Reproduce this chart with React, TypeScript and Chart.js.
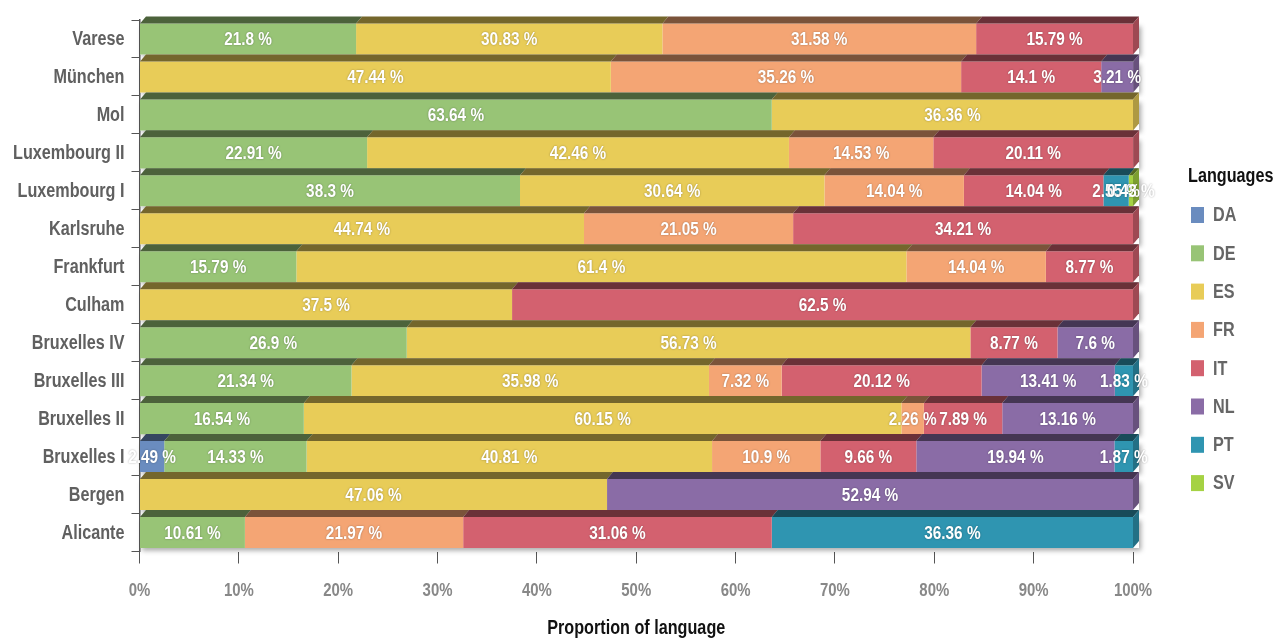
import React, { useEffect, useRef } from "react";
import { Chart, registerables } from "chart.js";

Chart.register(...registerables);

// Sites shown on the vertical axis, top to bottom
const categories = [
  "Varese",
  "München",
  "Mol",
  "Luxembourg II",
  "Luxembourg I",
  "Karlsruhe",
  "Frankfurt",
  "Culham",
  "Bruxelles IV",
  "Bruxelles III",
  "Bruxelles II",
  "Bruxelles I",
  "Bergen",
  "Alicante",
];

// Share of each language per site, in percent
const languages = ["DA", "DE", "ES", "FR", "IT", "NL", "PT", "SV"];
const daValues = [0, 0, 0, 0, 0, 0, 0, 0, 0, 0, 0, 2.49, 0, 0];
const deValues = [21.8, 0, 63.64, 22.91, 38.3, 0, 15.79, 0, 26.9, 21.34, 16.54, 14.33, 0, 10.61];
const esValues = [30.83, 47.44, 36.36, 42.46, 30.64, 44.74, 61.4, 37.5, 56.73, 35.98, 60.15, 40.81, 47.06, 0];
const frValues = [31.58, 35.26, 0, 14.53, 14.04, 21.05, 14.04, 0, 0, 7.32, 2.26, 10.9, 0, 21.97];
const itValues = [15.79, 14.1, 0, 20.11, 14.04, 34.21, 8.77, 62.5, 8.77, 20.12, 7.89, 9.66, 0, 31.06];
const nlValues = [0, 3.21, 0, 0, 0, 0, 0, 0, 7.6, 13.41, 13.16, 19.94, 52.94, 0];
const ptValues = [0, 0, 0, 0, 2.55, 0, 0, 0, 0, 1.83, 0, 1.87, 0, 36.36];
const svValues = [0, 0, 0, 0, 0.43, 0, 0, 0, 0, 0, 0, 0, 0, 0];

// Percent ticks on the horizontal axis
const xTicks = [0, 10, 20, 30, 40, 50, 60, 70, 80, 90, 100];

const seriesValues = [daValues, deValues, esValues, frValues, itValues, nlValues, ptValues, svValues];
const seriesColors = ["#6a8cbf", "#98c476", "#e8cc58", "#f4a574", "#d3616f", "#8a6ca6", "#2f95b1", "#a5d243"];

const SANS = '"Liberation Sans", Arial, sans-serif';
const NARROW_K = 0.83; // horizontal squeeze for a narrow bold face
const DEPTH_X = 6;
const DEPTH_Y = 7;

function shade(hex: string, f: number): string {
  const n = parseInt(hex.slice(1), 16);
  const r = Math.round(((n >> 16) & 255) * f);
  const g = Math.round(((n >> 8) & 255) * f);
  const b = Math.round((n & 255) * f);
  return `rgb(${r},${g},${b})`;
}

function narrowText(
  ctx: CanvasRenderingContext2D,
  text: string,
  x: number,
  y: number,
  size: number,
  color: string,
  align: CanvasTextAlign
) {
  ctx.save();
  ctx.translate(x, y);
  ctx.scale(NARROW_K, 1);
  ctx.font = `bold ${size}px ${SANS}`;
  ctx.textAlign = align;
  ctx.textBaseline = "middle";
  ctx.fillStyle = color;
  ctx.fillText(text, 0, 0);
  ctx.restore();
}

type Seg = { x0: number; x1: number; top: number; bottom: number; y: number; value: number; color: string };

function collectRows(chart: any): Seg[][] {
  const rows: Seg[][] = categories.map(() => []);
  chart.data.datasets.forEach((ds: any, di: number) => {
    const meta = chart.getDatasetMeta(di);
    if (meta.hidden) return;
    meta.data.forEach((el: any, j: number) => {
      const v = ds.data[j];
      if (!v) return;
      const p = el.getProps(["x", "y", "base", "height"], true);
      rows[j].push({
        x0: Math.min(p.base, p.x),
        x1: Math.max(p.base, p.x),
        top: p.y - p.height / 2,
        bottom: p.y + p.height / 2,
        y: p.y,
        value: v,
        color: ds.backgroundColor,
      });
    });
  });
  return rows;
}

// Drop shadow, 3D top / side faces, value labels, axis text and legend
const bar3dPlugin = {
  id: "bar3d",
  beforeDatasetsDraw(chart: any) {
    const ctx = chart.ctx;
    const rows = collectRows(chart);
    ctx.save();
    ctx.fillStyle = "#ffffff";
    ctx.shadowColor = "rgba(0,0,0,0.35)";
    ctx.shadowBlur = 5;
    ctx.shadowOffsetX = 2;
    ctx.shadowOffsetY = 3;
    rows.forEach((segs) => {
      if (!segs.length) return;
      const left = Math.min(...segs.map((s) => s.x0));
      const right = Math.max(...segs.map((s) => s.x1));
      ctx.fillRect(left, segs[0].top, right - left + DEPTH_X, segs[0].bottom - segs[0].top);
    });
    ctx.restore();
  },
  afterDatasetsDraw(chart: any) {
    const ctx = chart.ctx;
    const rows = collectRows(chart);
    ctx.save();
    rows.forEach((segs) => {
      segs.forEach((s) => {
        ctx.fillStyle = shade(s.color, 0.5);
        ctx.beginPath();
        ctx.moveTo(s.x0, s.top);
        ctx.lineTo(s.x1, s.top);
        ctx.lineTo(s.x1 + DEPTH_X, s.top - DEPTH_Y);
        ctx.lineTo(s.x0 + DEPTH_X, s.top - DEPTH_Y);
        ctx.closePath();
        ctx.fill();
      });
      if (segs.length) {
        const last = segs.reduce((a, b) => (b.x1 > a.x1 ? b : a));
        ctx.fillStyle = shade(last.color, 0.75);
        ctx.beginPath();
        ctx.moveTo(last.x1, last.top);
        ctx.lineTo(last.x1 + DEPTH_X, last.top - DEPTH_Y);
        ctx.lineTo(last.x1 + DEPTH_X, last.bottom - DEPTH_Y);
        ctx.lineTo(last.x1, last.bottom);
        ctx.closePath();
        ctx.fill();
      }
    });
    ctx.restore();

    ctx.save();
    ctx.shadowColor = "rgba(0,0,0,0.35)";
    ctx.shadowBlur = 2;
    rows.forEach((segs) => {
      segs.forEach((s) => {
        narrowText(ctx, `${s.value} %`, (s.x0 + s.x1) / 2, s.y + 1, 18.5, "#ffffff", "center");
      });
    });
    ctx.restore();
  },
  afterDraw(chart: any) {
    const ctx = chart.ctx;
    const xs = chart.scales.x;
    const ys = chart.scales.y;
    const area = chart.chartArea;

    // category labels, right-aligned against the axis ticks
    ys.getLabels().forEach((lab: string, i: number) => {
      narrowText(ctx, lab, area.left - 15, ys.getPixelForTick(i) + 1, 19.5, "#606060", "right");
    });
    // percent tick labels
    xTicks.forEach((v) => {
      narrowText(ctx, `${v}%`, xs.getPixelForValue(v), 591, 18, "#888888", "center");
    });
    // axis title
    narrowText(ctx, "Proportion of language", (area.left + area.right) / 2, 629, 19.5, "#111111", "center");

    // legend
    narrowText(ctx, "Languages", 1188, 177, 19.5, "#111111", "left");
    chart.data.datasets.forEach((ds: any, i: number) => {
      const cy = 215 + i * 38.3;
      ctx.save();
      ctx.fillStyle = ds.backgroundColor;
      ctx.fillRect(1191, cy - 8, 13, 16);
      ctx.restore();
      narrowText(ctx, ds.label, 1213, cy + 1, 19.5, "#666666", "left");
    });
  },
};

export default function App() {
  const canvasRef = useRef<HTMLCanvasElement | null>(null);

  useEffect(() => {
    if (!canvasRef.current) return;
    const chart = new Chart(canvasRef.current, {
      type: "bar",
      data: {
        labels: categories,
        datasets: languages.map((lang, i) => ({
          label: lang,
          data: seriesValues[i],
          backgroundColor: seriesColors[i],
          borderWidth: 0,
          barPercentage: 0.817,
          categoryPercentage: 1,
        })),
      },
      options: {
        indexAxis: "y",
        responsive: false,
        animation: false,
        layout: { padding: { top: 20, right: 152, left: 0, bottom: 0 } },
        plugins: {
          legend: { display: false },
          tooltip: { enabled: false },
        },
        scales: {
          x: {
            stacked: true,
            min: 0,
            max: 100,
            afterFit: (scale: any) => {
              scale.height = 90.5;
            },
            afterBuildTicks: (scale: any) => {
              scale.ticks = xTicks.map((v) => ({ value: v }));
            },
            ticks: { display: false },
            grid: {
              drawOnChartArea: false,
              tickLength: 12,
              color: "#555555",
            },
            border: { display: false },
          },
          y: {
            stacked: true,
            afterFit: (scale: any) => {
              scale.width = 139.5;
            },
            ticks: { display: false },
            grid: {
              drawOnChartArea: false,
              tickLength: 8,
              color: "#555555",
              offset: true,
            },
            border: { display: true, color: "#555555", width: 1.5 },
          },
        },
      },
      plugins: [bar3dPlugin],
    });
    return () => chart.destroy();
  }, []);

  return (
    <div style={{ position: "fixed", left: 0, top: 0, width: 1285, height: 642, background: "#ffffff" }}>
      <canvas ref={canvasRef} width={1285} height={642} style={{ display: "block" }} />
    </div>
  );
}
